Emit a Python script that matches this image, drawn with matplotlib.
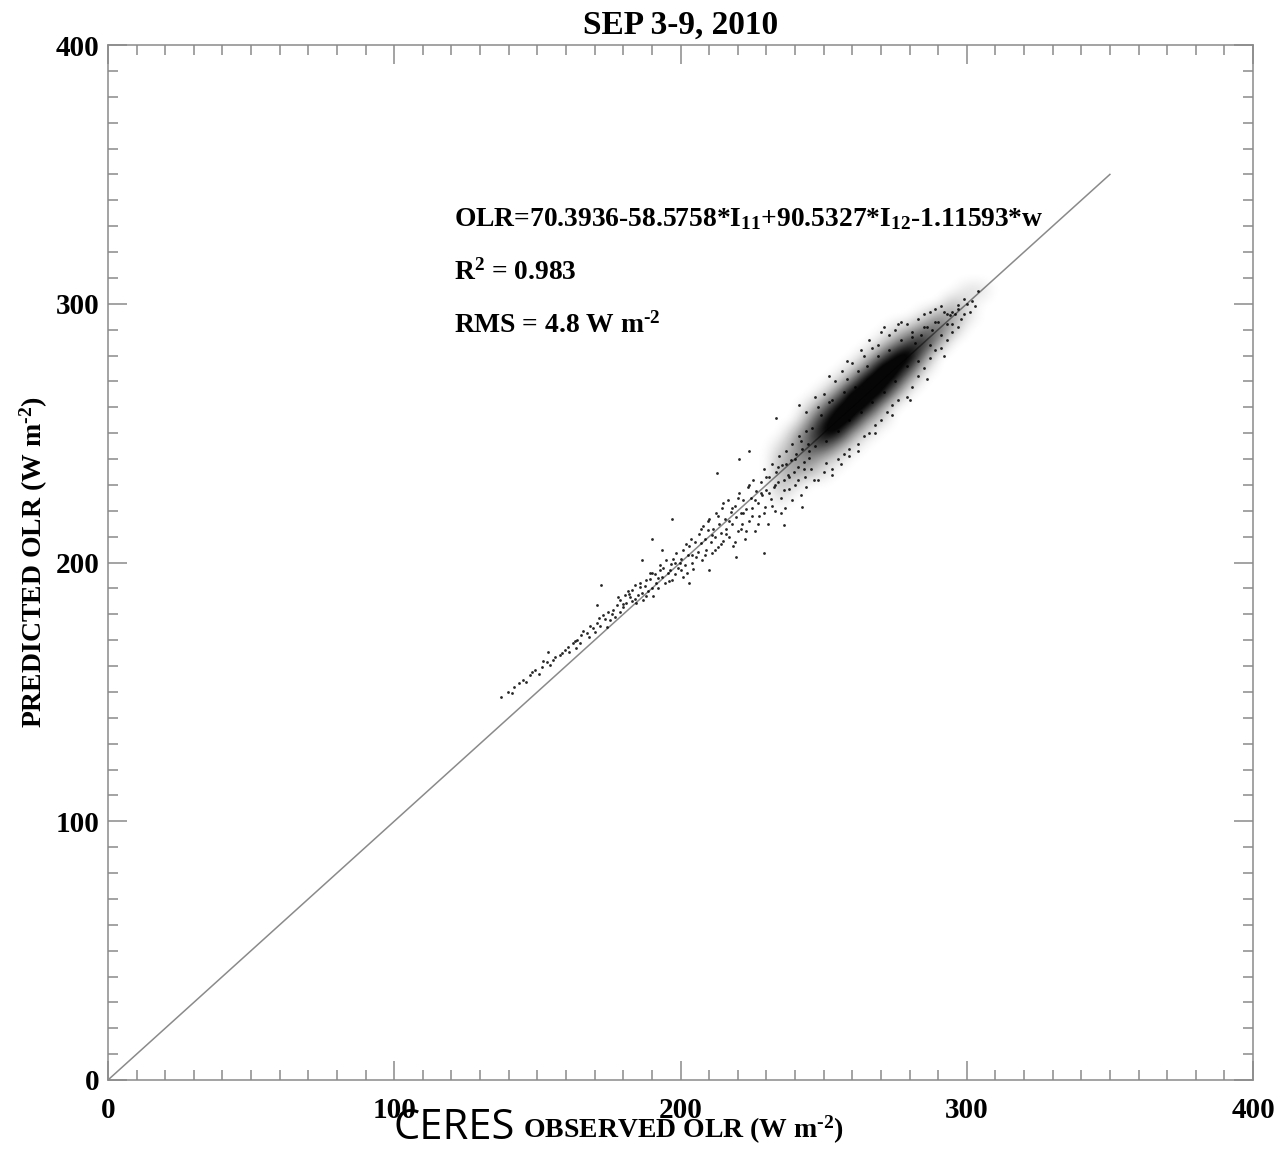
import matplotlib
matplotlib.use("Agg")
import numpy as np
import matplotlib.pyplot as plt
from matplotlib.colors import LinearSegmentedColormap
from matplotlib.ticker import MultipleLocator

plt.rcParams['font.family'] = ['Liberation Serif', 'DejaVu Serif']
plt.rcParams['font.weight'] = 'bold'
plt.rcParams['mathtext.fontset'] = 'custom'
plt.rcParams['mathtext.rm'] = 'Liberation Serif:bold'
plt.rcParams['mathtext.bf'] = 'Liberation Serif:bold'
plt.rcParams['mathtext.it'] = 'Liberation Serif:bold'
plt.rcParams['mathtext.default'] = 'bf'

# observed (CERES) vs predicted OLR, W m-2 -- points outside the dense core
obs = [
    137.3, 139.6, 141.0, 142.0, 143.5, 144.9, 146.0, 147.3, 148.0, 149.0, 150.5, 151.5, 152.0,
    153.2, 153.6, 154.5, 155.3, 156.0, 157.8, 158.5, 159.5, 160.6, 161.0, 162.3, 163.0, 163.5,
    164.0, 165.0, 165.4, 166.0, 167.2, 168.2, 168.5, 169.3, 170.0, 170.7, 171.0, 171.7, 172.0,
    172.4, 172.8, 173.5, 174.2, 174.5, 175.2, 176.0,
    176.3, 177.0, 177.7, 178.0, 178.7, 179.0, 179.8, 180.5, 181.0, 181.5, 182.2, 183.0, 183.2,
    184.0, 184.6, 185.0, 185.7, 186.4, 186.7, 187.0, 187.5, 188.1, 188.5, 189.2, 189.5, 190.0,
    190.2, 190.5, 191.0, 191.6, 192.0, 192.7, 193.0, 193.4, 193.7, 194.5, 195.1, 195.5, 196.2,
    196.8, 197.0, 197.2, 197.5, 198.0, 198.6, 199.0, 199.7, 200.0, 200.7, 201.0, 201.5, 202.1,
    202.5, 203.0, 203.0, 204.0, 204.5, 205.0,
    180.0, 182.0, 184.0, 186.0, 188.0, 190.0, 192.0, 194.0, 196.0, 198.0, 200.0, 202.0, 204.0,
    206.0, 206.5, 207.0, 207.5, 208.0, 208.5, 209.0, 209.5, 210.0, 210.0, 210.5, 211.0, 211.5,
    212.0, 212.5, 212.6, 213.0, 213.5, 214.0, 214.5, 215.0, 215.5, 216.0, 216.5, 217.0, 217.5,
    218.0, 218.5, 219.0, 219.5, 219.5, 220.0, 220.5, 220.6, 221.0, 221.5, 222.0, 222.5, 223.0,
    223.5, 224.0, 224.0, 224.5, 225.0, 225.5, 226.0, 226.5, 227.0, 227.5, 228.0, 228.5, 229.0,
    229.0, 229.5, 230.0, 230.5, 231.0, 231.5, 232.0, 232.5, 233.0, 233.5, 233.5, 234.0, 234.5,
    235.0, 235.5, 236.0, 236.0, 236.5, 237.0, 237.5, 238.0, 238.5, 239.0, 239.5, 240.0, 240.5,
    241.0, 241.5, 241.5, 242.0, 242.5, 242.6, 243.0, 243.5, 244.0, 244.5, 245.0, 245.5, 246.8,
    203.5, 205.5, 207.0, 208.5, 209.5, 211.0, 212.0, 213.0, 214.0, 215.0, 216.0, 217.0, 218.0,
    219.0, 220.0, 221.0, 222.0, 223.0, 224.0, 225.0, 226.0, 227.0, 228.0, 229.0, 230.0, 231.0,
    232.0, 233.0, 234.0, 235.0, 236.0, 237.0, 238.0, 239.0, 240.0, 241.0, 242.0, 243.0, 244.0,
    245.0,
    248.0, 250.0, 251.0, 252.0, 254.0, 256.5, 258.0, 260.0, 262.0, 264.0, 266.0, 267.0, 269.0,
    271.0, 273.0, 275.0, 277.0, 279.0, 281.0, 283.0, 285.0, 287.0, 289.0, 291.0,
    248.0, 250.0, 253.0, 255.0, 257.0, 259.0, 262.0, 264.0, 266.0, 268.0, 270.0, 272.0, 274.0,
    276.0, 279.0, 281.0, 283.0, 285.0, 287.0, 289.0, 291.0, 293.0, 295.0, 297.0,
    246.0, 247.0, 249.0, 251.0, 253.0, 255.0, 257.0, 259.0, 261.0, 263.0, 265.0, 267.0, 269.0,
    271.0, 273.0, 275.0, 277.0, 279.0, 281.0, 283.0, 285.0, 287.0, 289.0, 291.0, 293.0, 295.0,
    297.0, 299.0, 252.0, 258.0, 263.0, 270.0, 276.0, 256.0, 262.0, 268.0, 274.0, 280.0, 286.0,
    292.0, 244.0, 247.0, 253.0, 259.0,
    282.0, 284.0, 286.0, 288.0, 290.0, 292.0, 293.0, 294.0, 295.0, 296.0, 297.0, 298.0, 299.0,
    300.0, 301.0, 302.0, 303.0, 304.0,
]
pred = [
    148.1, 150.0, 149.5, 152.0, 153.5, 154.6, 154.0, 156.5, 157.5, 158.5, 157.0, 159.6, 162.0,
    161.5, 165.4, 160.5, 162.3, 163.5, 164.3, 165.0, 166.2, 167.3, 165.5, 168.9, 169.5, 167.0,
    170.0, 169.0, 172.0, 173.5, 172.8, 171.2, 175.5, 174.7, 173.0, 176.6, 183.6, 178.6, 175.5,
    191.3, 179.7, 178.0, 175.0, 181.0, 177.8, 180.0,
    181.6, 179.0, 183.6, 186.5, 185.5, 181.0, 182.8, 187.4, 184.5, 189.0, 186.7, 185.0, 189.4,
    191.5, 184.3, 187.5, 190.5, 201.0, 188.2, 185.5, 191.0, 193.2, 189.0, 196.0, 193.5, 209.0,
    190.1, 187.0, 195.5, 192.1, 190.0, 197.1, 199.0, 204.8, 194.4, 192.0, 201.0, 196.0, 197.1,
    199.5, 217.0, 193.2, 201.5, 195.5, 203.7, 198.0, 199.8, 201.5, 204.8, 194.5, 199.0, 196.0,
    203.0, 206.5, 192.0, 200.0, 197.5, 208.0,
    184.0, 188.0, 186.0, 192.0, 187.0, 196.0, 194.0, 198.0, 193.0, 200.0, 197.0, 207.0, 203.0,
    204.0, 211.0, 207.5, 201.0, 214.0, 209.0, 205.0, 212.5, 217.0, 197.0, 208.0, 203.5, 213.0,
    210.0, 219.0, 234.6, 206.0, 215.0, 211.5, 221.0, 208.5, 217.0, 213.0, 224.0, 210.0, 219.5,
    215.0, 206.5, 222.0, 217.5, 202.0, 212.0, 227.0, 240.0, 219.0, 215.0, 224.0, 209.0, 220.5,
    229.0, 216.0, 243.0, 225.0, 221.0, 232.0, 212.0, 227.5, 223.0, 218.0, 231.0, 226.0, 236.0,
    203.7, 221.5, 228.0, 215.0, 233.0, 224.5, 238.0, 229.0, 220.0, 235.0, 255.8, 231.0, 241.0,
    225.0, 237.5, 232.0, 214.5, 221.0, 243.0, 234.0, 228.5, 239.5, 246.0, 235.0, 230.0, 242.0,
    237.0, 249.0, 260.9, 226.0, 244.0, 221.5, 239.0, 233.0, 251.0, 246.0, 240.5, 236.0, 231.9,
    209.0, 202.0, 213.0, 203.0, 216.0, 210.5, 205.0, 218.0, 207.0, 223.0, 211.0, 216.0, 221.0,
    208.0, 225.0, 213.0, 219.0, 212.0, 230.0, 218.0, 224.0, 215.0, 227.0, 219.0, 233.0, 227.0,
    222.0, 230.0, 237.0, 219.0, 228.0, 238.0, 233.0, 224.0, 240.0, 232.0, 247.0, 236.0, 229.0,
    243.0,
    260.0, 265.0, 238.5, 262.0, 270.0, 274.0, 271.0, 277.0, 274.0, 280.0, 286.0, 283.0, 284.0,
    291.0, 288.0, 290.0, 293.0, 292.0, 289.0, 294.0, 296.0, 297.0, 298.0, 299.0,
    232.0, 235.0, 236.0, 240.0, 242.0, 244.0, 246.0, 249.0, 250.0, 253.0, 255.0, 258.0, 261.0,
    263.0, 264.0, 268.0, 272.0, 275.0, 279.0, 282.0, 283.0, 286.0, 289.0, 291.0,
    252.0, 245.0, 257.0, 247.0, 263.0, 251.0, 266.0, 255.0, 268.0, 258.0, 276.0, 262.0, 280.0,
    266.0, 282.0, 270.0, 286.0, 276.0, 287.0, 278.0, 291.0, 284.0, 293.0, 288.0, 296.0, 292.0,
    298.0, 296.0, 272.0, 278.0, 282.0, 289.0, 292.0, 238.0, 243.0, 250.0, 257.0, 263.0, 271.0,
    280.0, 258.0, 264.0, 234.0, 241.0,
    285.0, 288.0, 291.0, 290.0, 293.0, 297.0, 292.0, 295.5, 297.0, 296.0, 299.5, 294.0, 302.0,
    300.0, 297.0, 301.0, 299.0, 305.0,
]

# darkness of the dense core of the cloud on a 5 W m-2 grid (0 = empty, 9 = solid)
core_x = [230, 235, 240, 245, 250, 255, 260, 265, 270, 275, 280, 285, 290, 295, 300, 305, 310]
core_y = [220, 225, 230, 235, 240, 245, 250, 255, 260, 265, 270, 275, 280, 285, 290, 295,
          300, 305, 310]
core_dark = [
    [0, 0, 0, 0, 0, 0, 0, 0, 0, 0, 0, 0, 0, 0, 0, 0, 0],
    [0, 1, 0, 0, 0, 0, 0, 0, 0, 0, 0, 0, 0, 0, 0, 0, 0],
    [0, 2, 1, 0, 0, 0, 0, 0, 0, 0, 0, 0, 0, 0, 0, 0, 0],
    [0, 2, 3, 2, 1, 0, 0, 0, 0, 0, 0, 0, 0, 0, 0, 0, 0],
    [0, 2, 3, 4, 2, 1, 0, 0, 0, 0, 0, 0, 0, 0, 0, 0, 0],
    [0, 1, 3, 5, 6, 3, 1, 0, 0, 0, 0, 0, 0, 0, 0, 0, 0],
    [0, 0, 2, 5, 8, 8, 3, 1, 0, 0, 0, 0, 0, 0, 0, 0, 0],
    [0, 0, 0, 3, 7, 9, 8, 3, 1, 0, 0, 0, 0, 0, 0, 0, 0],
    [0, 0, 0, 1, 4, 8, 9, 8, 3, 0, 0, 0, 0, 0, 0, 0, 0],
    [0, 0, 0, 0, 1, 4, 9, 9, 8, 3, 0, 0, 0, 0, 0, 0, 0],
    [0, 0, 0, 0, 0, 1, 4, 9, 9, 7, 2, 0, 0, 0, 0, 0, 0],
    [0, 0, 0, 0, 0, 0, 1, 4, 9, 9, 6, 1, 0, 0, 0, 0, 0],
    [0, 0, 0, 0, 0, 0, 0, 1, 4, 8, 9, 4, 0, 0, 0, 0, 0],
    [0, 0, 0, 0, 0, 0, 0, 0, 1, 3, 6, 7, 3, 0, 0, 0, 0],
    [0, 0, 0, 0, 0, 0, 0, 0, 0, 1, 2, 4, 5, 2, 0, 0, 0],
    [0, 0, 0, 0, 0, 0, 0, 0, 0, 0, 0, 1, 3, 3, 1, 0, 0],
    [0, 0, 0, 0, 0, 0, 0, 0, 0, 0, 0, 0, 0, 2, 1, 0, 0],
    [0, 0, 0, 0, 0, 0, 0, 0, 0, 0, 0, 0, 0, 0, 1, 1, 0],
    [0, 0, 0, 0, 0, 0, 0, 0, 0, 0, 0, 0, 0, 0, 0, 0, 0],
]

fit_line = [0, 350]

fig = plt.figure(figsize=(12.87, 11.52), dpi=100)
ax = fig.add_axes([0.0839, 0.0625, 0.8897, 0.8984])

grey = '#8a8a8a'
ax.plot(fit_line, fit_line, color=grey, lw=1.1, zorder=1)

dens_cmap = LinearSegmentedColormap.from_list('dens', [(0, 0, 0, 0), (0, 0, 0, 0.98)])
ax.imshow(np.array(core_dark, dtype=float), origin='lower', cmap=dens_cmap, vmin=0, vmax=7.5,
          extent=(core_x[0] - 2.5, core_x[-1] + 2.5, core_y[0] - 2.5, core_y[-1] + 2.5),
          interpolation='bicubic', aspect='auto', zorder=2)
ax.scatter(obs, pred, s=4, color='black', alpha=0.85, lw=0, zorder=3)

ax.set_xlim(0, 400)
ax.set_ylim(0, 400)
ax.xaxis.set_major_locator(MultipleLocator(100))
ax.yaxis.set_major_locator(MultipleLocator(100))
ax.xaxis.set_minor_locator(MultipleLocator(10))
ax.yaxis.set_minor_locator(MultipleLocator(10))
ax.tick_params(which='both', direction='in', top=True, right=True, color=grey, width=1.1)
ax.tick_params(which='major', length=14, labelsize=21)
ax.tick_params(which='minor', length=7)
ax.tick_params(axis='x', pad=12)
ax.tick_params(axis='y', pad=6)
for sp in ax.spines.values():
    sp.set_color(grey)
    sp.set_linewidth(1.1)
for lab in ax.get_xticklabels() + ax.get_yticklabels():
    lab.set_fontweight('bold')

ax.set_title('SEP 3-9, 2010', fontsize=24, fontweight='bold', pad=8)
ax.set_ylabel('PREDICTED OLR (W m$^{\u20102}$)', fontsize=20, fontweight='bold', labelpad=4)

fig.text(0.531, 0.005, 'OBSERVED OLR (W m$^{\u20102}$)', fontsize=20, fontweight='bold',
         ha='center', va='bottom')
fig.text(0.353, 0.003, 'CERES', family=['Open Sans', 'DejaVu Sans'], fontweight='normal',
         fontsize=30, ha='center', va='bottom')

ax.text(121, 330, r'OLR=70.3936-58.5758*I$_{11}$+90.5327*I$_{12}$-1.11593*w',
        fontsize=19.8, fontweight='bold', va='baseline')
ax.text(121, 309.5, r'R$^{2}$ = 0.983', fontsize=19.8, fontweight='bold', va='baseline')
ax.text(121, 289, 'RMS = 4.8 W m$^{\u20102}$', fontsize=19.8, fontweight='bold', va='baseline')

fig.savefig('out.png', dpi=100)
